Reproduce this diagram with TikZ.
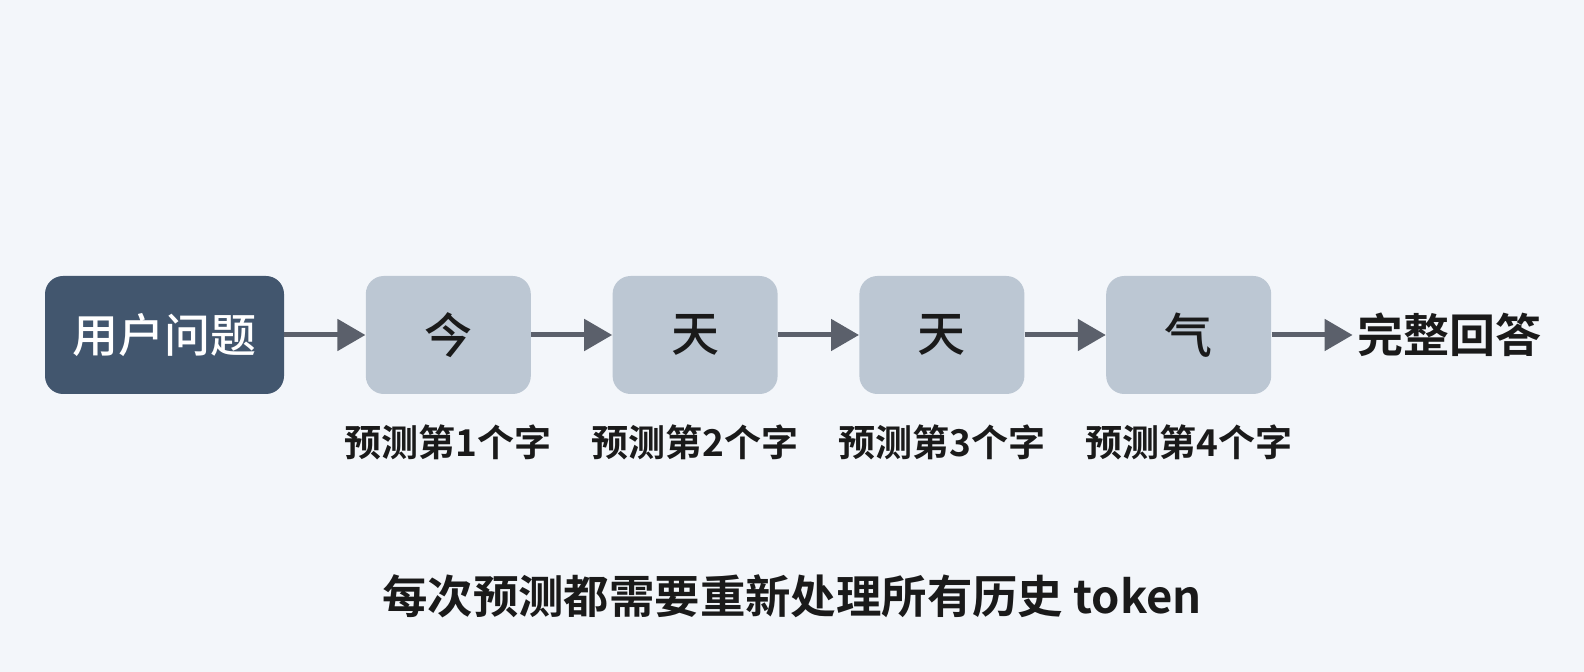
\documentclass[tikz,border=0pt]{standalone}
\usepackage{fontspec}
\setmainfont{Noto Sans CJK SC}[BoldFont={Noto Sans CJK SC Bold}]
\newfontfamily\mediumcjk{Noto Sans CJK SC Medium}
\usepackage{xcolor}
\usetikzlibrary{arrows.meta,positioning}

\definecolor{bgcol}{HTML}{F3F6FA}
\definecolor{querycol}{HTML}{42566E}
\definecolor{tokcol}{HTML}{BCC7D3}
\definecolor{arrcol}{HTML}{5B606B}
\definecolor{txtcol}{HTML}{1A1A1A}

\tikzset{
  querybox/.style={fill=querycol, rounded corners=9pt, minimum width=119.5pt, minimum height=59pt,
    inner sep=0pt, text=white, font=\mediumcjk\fontsize{23}{23}\selectfont},
  tokbox/.style={fill=tokcol, rounded corners=9pt, minimum width=82.5pt, minimum height=59pt,
    inner sep=0pt, text=txtcol, font=\mediumcjk\fontsize{24}{24}\selectfont},
  steplbl/.style={inner sep=0pt, text=txtcol, font=\bfseries\fontsize{18.5}{18.5}\selectfont},
  bigtext/.style={inner sep=0pt, text=txtcol, font=\bfseries\fontsize{23}{23}\selectfont},
  flow/.style={->, draw=arrcol, fill=arrcol, line width=2.5pt}
}

\begin{document}
\begin{tikzpicture}[x=0.5pt, y=-0.5pt, >={Triangle[length=14pt,width=15.5pt]}, node distance=40.5pt]
    \fill[bgcol] (0,0) rectangle (1584,672);
    % question and predicted tokens
    \node[querybox] (q) at (164.5,335) {用户问题};
    \node[tokbox, right=of q] (t1) {今};
    \node[tokbox, right=of t1] (t2) {天};
    \node[tokbox, right=of t2] (t3) {天};
    \node[tokbox, right=of t3] (t4) {气};
    \node[bigtext, anchor=west, right=42.5pt of t4] (ans) {完整回答};
    \draw[flow] (q) -- (t1);
    \draw[flow] (t1) -- (t2);
    \draw[flow] (t2) -- (t3);
    \draw[flow] (t3) -- (t4);
    \draw[flow, shorten >=2pt] (t4) -- (ans);
    % step labels
    \node[steplbl] (l1) at (t1 |- 0,442) {预测第1个字};
    \node[steplbl] (l2) at (t2 |- 0,442) {预测第2个字};
    \node[steplbl] (l3) at (t3 |- 0,442) {预测第3个字};
    \node[steplbl] (l4) at (t4 |- 0,442) {预测第4个字};
    \node[bigtext, font=\bfseries\fontsize{22.7}{22.7}\selectfont] (note) at (792,596) {每次预测都需要重新处理所有历史 token};
  \end{tikzpicture}
\end{document}
